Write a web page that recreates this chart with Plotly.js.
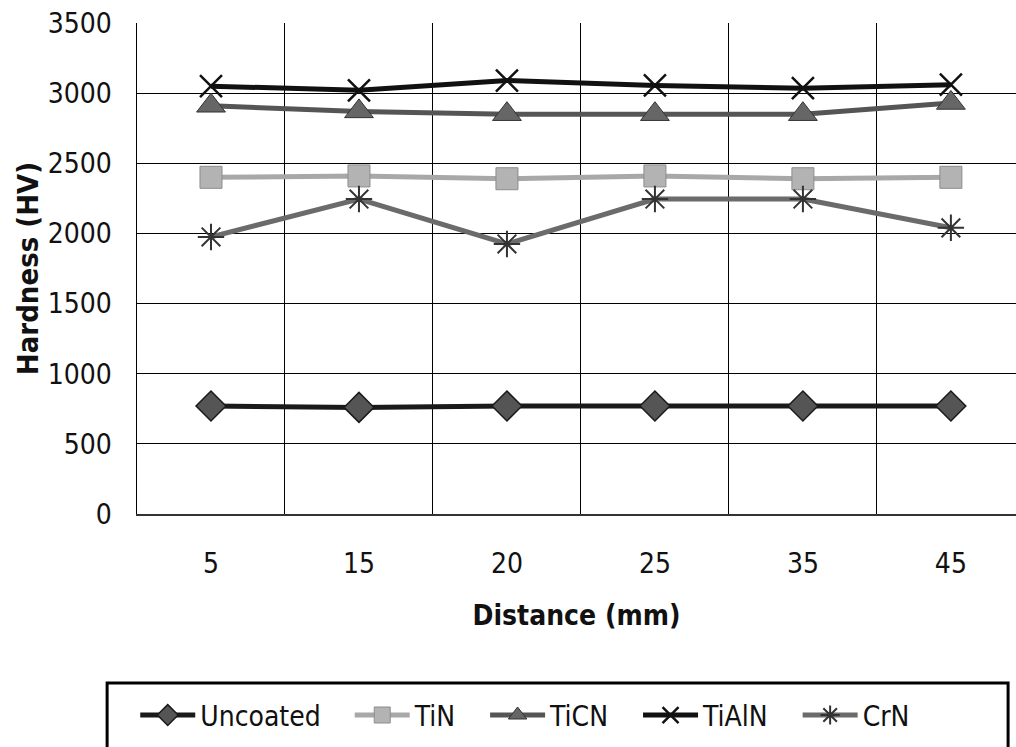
<!DOCTYPE html>
<html>
<head>
<meta charset="utf-8">
<script src="https://cdn.plot.ly/plotly-3.0.1.min.js"></script>
<style>html,body{margin:0;padding:0;background:#fff;}#chart{width:1016px;height:747px;}</style>
</head>
<body>
<div id="chart"></div>
<script>
const distances = ["5", "15", "20", "25", "35", "45"];
const seriesNames = ["Uncoated", "TiN", "TiCN", "TiAlN", "CrN"];
const uncoated = [770, 760, 770, 770, 770, 770];
const tin = [2400, 2410, 2390, 2410, 2390, 2400];
const ticn = [2910, 2870, 2850, 2850, 2850, 2930];
const tialn = [3050, 3020, 3090, 3055, 3035, 3060];
const crn = [1975, 2245, 1925, 2245, 2245, 2040];
const yTicks = [0, 500, 1000, 1500, 2000, 2500, 3000, 3500];

const FONT = '"Liberation Sans Narrow", "DejaVu Sans Condensed", "Liberation Sans", sans-serif';
const PAD = "\u00a0\u00a0\u00a0";

const traces = [
  {name: seriesNames[0] + PAD, x: distances, y: uncoated, mode: "lines+markers",
   line: {color: "#1a1a1a", width: 5},
   marker: {symbol: "diamond", size: 23, color: "#555555", line: {color: "#1a1a1a", width: 1.5}}},
  {name: seriesNames[1] + PAD, x: distances, y: tin, mode: "lines+markers",
   line: {color: "#a8a8a8", width: 5},
   marker: {symbol: "square", size: 22, color: "#b3b3b3", line: {color: "#8c8c8c", width: 1}}},
  {name: seriesNames[2] + PAD, x: distances, y: ticn, mode: "lines+markers",
   line: {color: "#555555", width: 5},
   marker: {symbol: "triangle-up", size: 25, color: "#666666", line: {color: "#333333", width: 1}}},
  {name: seriesNames[3] + PAD, x: distances, y: tialn, mode: "lines+markers",
   line: {color: "#111111", width: 5},
   marker: {symbol: "x-thin-open", size: 22, color: "#111111", line: {color: "#111111", width: 2.5}}},
  {name: seriesNames[4], x: distances, y: crn, mode: "lines+markers",
   line: {color: "#6b6b6b", width: 5},
   marker: {symbol: "asterisk-open", size: 22, color: "#333333", line: {color: "#333333", width: 2}}}
];

const layout = {
  width: 1016, height: 747,
  margin: {l: 137, r: 0, t: 23, b: 233},
  paper_bgcolor: "#ffffff", plot_bgcolor: "#ffffff",
  font: {family: FONT, color: "#111111", size: 28},
  showlegend: true,
  legend: {
    orientation: "h", x: -0.002, xanchor: "left", y: -0.41, yanchor: "middle",
    borderwidth: 0, bgcolor: "rgba(0,0,0,0)",
    font: {family: FONT, size: 28, color: "#111111"},
    itemwidth: 55, tracegroupgap: 0
  },
  shapes: [
    {type: "rect", xref: "paper", yref: "paper", x0: -0.034, x1: 0.991, y0: -0.344, y1: -0.52,
     line: {color: "#000000", width: 3}, fillcolor: "rgba(0,0,0,0)", layer: "below"}
  ],
  xaxis: {
    type: "category", range: [-0.5, 5.44],
    tickson: "boundaries", showgrid: true, gridcolor: "#000000", gridwidth: 1,
    showline: true, linecolor: "#333333", linewidth: 2,
    ticks: "", ticklen: 0, ticklabelstandoff: 23,
    tickfont: {family: FONT, size: 28, color: "#111111"},
    title: {text: "<b>Distance (mm)</b>", font: {family: FONT, size: 28, color: "#111111"}, standoff: 27},
    automargin: false, fixedrange: true
  },
  yaxis: {
    range: [0, 3500], tickvals: yTicks, ticktext: yTicks.map(String),
    showgrid: true, gridcolor: "#000000", gridwidth: 1,
    showline: true, linecolor: "#000000", linewidth: 1.5,
    zeroline: false, ticks: "", ticklen: 0, ticklabelstandoff: 18,
    tickfont: {family: FONT, size: 28, color: "#111111"},
    title: {text: "<b>Hardness (HV)</b>", font: {family: FONT, size: 29, color: "#111111"}, standoff: 0},
    automargin: false, fixedrange: true
  }
};

Plotly.newPlot("chart", traces, layout, {staticPlot: true, displayModeBar: false});
</script>
</body>
</html>
